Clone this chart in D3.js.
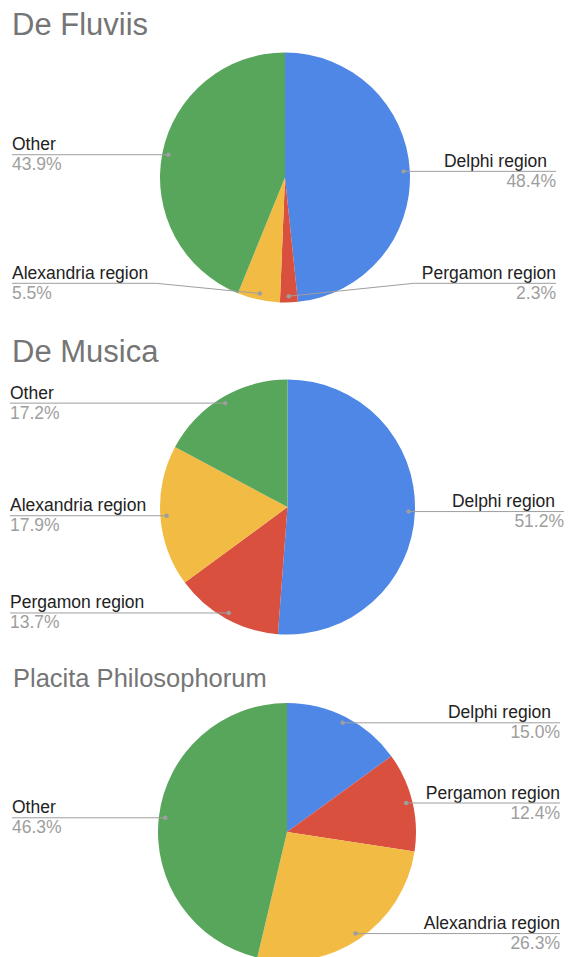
<!DOCTYPE html>
<html>
<head>
<meta charset="utf-8">
<script src="https://cdn.jsdelivr.net/npm/d3@7"></script>
<style>
  html, body { margin: 0; padding: 0; background: #fff; overflow: hidden; }
  svg { display: block; font-family: "Liberation Sans", Arial, sans-serif; }
</style>
</head>
<body>
<svg id="chart" width="570" height="957"></svg>
<script>
// ---- data ----
const categories = ["Delphi region", "Pergamon region", "Alexandria region", "Other"];
const titles = ["De Fluviis", "De Musica", "Placita Philosophorum"];
const deFluviis = [48.4, 2.3, 5.5, 43.9];
const deMusica = [51.2, 13.7, 17.9, 17.2];
const placitaPhilosophorum = [15.0, 12.4, 26.3, 46.3];
const seriesValues = [deFluviis, deMusica, placitaPhilosophorum];
const colors = ["#4f87e6", "#d9503f", "#f2bb44", "#58a55c"];

// ---- layout ----
const layouts = [
  { cx: 285, cy: 177.5, r: 125, titleX: 12, titleY: 35, titleSize: 31, left: 12, right: 556, maxLineY: 283.3 },
  { cx: 287.5, cy: 507, r: 127.5, titleX: 12, titleY: 361.7, titleSize: 31, left: 10, right: 564, maxLineY: 10000 },
  { cx: 287, cy: 832, r: 129, titleX: 13, titleY: 686.7, titleSize: 25.5, left: 12, right: 560, maxLineY: 10000 }
];
const labelSize = 17.5;
const labelDx = { "Delphi region": -9 };

const svg = d3.select("#chart");
const color = d3.scaleOrdinal().domain(categories).range(colors);

seriesValues.forEach((vals, i) => {
  const L = layouts[i];
  const data = categories.map((c, k) => ({ cat: c, value: vals[k] }));
  const g = svg.append("g");

  g.append("text")
    .attr("x", L.titleX).attr("y", L.titleY)
    .attr("font-size", L.titleSize)
    .attr("fill", "#757575")
    .text(titles[i]);

  const pie = d3.pie().sort(null).value(d => d.value);
  const arcs = pie(data);
  const arc = d3.arc().innerRadius(0).outerRadius(L.r);
  const dotArc = d3.arc().innerRadius(L.r * 0.95).outerRadius(L.r * 0.95);

  const pg = g.append("g").attr("transform", `translate(${L.cx},${L.cy})`);
  pg.selectAll("path").data(arcs).join("path")
    .attr("d", arc)
    .attr("fill", d => color(d.data.cat));

  arcs.forEach(d => {
    const [dx, dy] = dotArc.centroid(d);
    const px = L.cx + dx, py = L.cy + dy;
    const mid = (d.startAngle + d.endAngle) / 2;
    const isLeft = mid > Math.PI;
    const lineY = Math.min(py, L.maxLineY);
    const anchor = isLeft ? "start" : "end";
    const tx = isLeft ? L.left : L.right;

    const lab = g.append("text")
      .attr("x", tx + (isLeft ? 0 : (labelDx[d.data.cat] || 0)))
      .attr("y", lineY - 4.5)
      .attr("text-anchor", anchor)
      .attr("font-size", labelSize)
      .attr("fill", "#222")
      .text(d.data.cat);
    const pct = g.append("text")
      .attr("x", tx).attr("y", lineY + 15.5)
      .attr("text-anchor", anchor)
      .attr("font-size", labelSize)
      .attr("fill", "#9e9e9e")
      .text(d.data.value.toFixed(1) + "%");

    const w = Math.max(lab.node().getComputedTextLength(), pct.node().getComputedTextLength());
    let pts;
    if (Math.abs(lineY - py) > 0.5) {
      const knee = isLeft ? L.left + w + 8 : L.right - w - 8;
      pts = [[px, py], [knee, lineY], [tx, lineY]];
    } else {
      pts = [[px, py], [tx, lineY]];
    }
    g.append("path")
      .attr("d", d3.line()(pts))
      .attr("fill", "none")
      .attr("stroke", "#9e9e9e")
      .attr("stroke-width", 1);
    g.append("circle")
      .attr("cx", px).attr("cy", py).attr("r", 2.2)
      .attr("fill", "#9e9e9e");
  });
});
</script>
</body>
</html>
